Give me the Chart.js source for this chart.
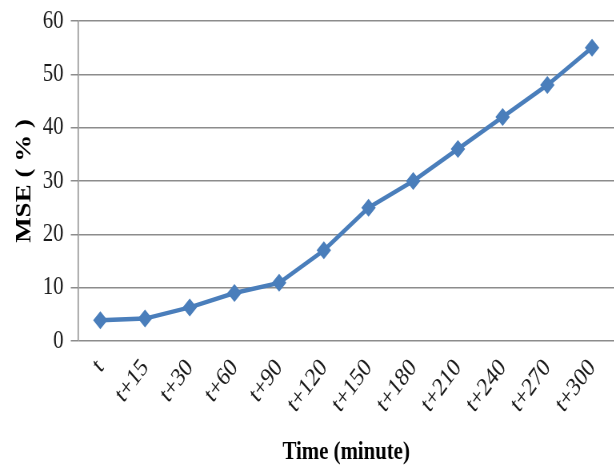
<!DOCTYPE html>
<html>
<head>
<meta charset="utf-8">
<script src="https://cdn.jsdelivr.net/npm/chart.js"></script>
<style>
  html, body { margin: 0; padding: 0; background: #fff; overflow: hidden; }
  /* the source figure is squeezed sideways, so draw wide and squeeze it */
  #wrap { width: 768px; height: 468px; transform: scaleX(0.8); transform-origin: 0 0; }
</style>
</head>
<body>
<div id="wrap"><canvas id="mseChart" width="768" height="468"></canvas></div>
<script>
// data
const timeLabels = ['t', 't+15', 't+30', 't+60', 't+90', 't+120', 't+150', 't+180', 't+210', 't+240', 't+270', 't+300'];
const mseValues = [3.9, 4.2, 6.3, 9, 10.9, 17, 25, 30, 36, 42, 48, 55];
const yTicks = [0, 10, 20, 30, 40, 50, 60];

const serif = '"Liberation Serif", "DejaVu Serif", serif';
const gridGray = '#8c8c8c';

const ctx = document.getElementById('mseChart').getContext('2d');
new Chart(ctx, {
    type: 'line',
    data: {
        labels: timeLabels,
        datasets: [{
            label: 'MSE',
            data: mseValues,
            borderColor: '#4a7ebb',
            backgroundColor: '#4a7ebb',
            borderWidth: 4.5,
            pointStyle: 'rectRot',
            pointRadius: 9,
            pointBorderWidth: 0,
            tension: 0,
            fill: false,
            clip: false
        }]
    },
    options: {
        responsive: false,
        animation: false,
        // no extra room for the markers, plot runs to the right edge
        layout: { autoPadding: false, padding: { top: 21, right: 0, left: 0, bottom: 0 } },
        plugins: { legend: { display: false }, tooltip: { enabled: false } },
        scales: {
            x: {
                offset: true,
                grid: { display: false },
                border: { display: false },
                ticks: {
                    color: '#1a1a1a',
                    font: { family: serif, size: 26 },
                    minRotation: 48,
                    maxRotation: 48,
                    padding: 4
                },
                title: {
                    display: true,
                    text: 'Time (minute)',
                    color: '#000',
                    font: { family: serif, size: 26, weight: 'bold' },
                    padding: { top: 0, bottom: 0 }
                },
                afterFit: s => { s.height = 127; s.paddingLeft = 0; s.paddingRight = 0; }
            },
            y: {
                min: 0,
                max: 60,
                afterBuildTicks: s => { s.ticks = yTicks.map(v => ({ value: v })); },
                grid: { color: gridGray, lineWidth: 1.5, tickLength: 9 },
                border: { color: gridGray, width: 1.5 },
                ticks: {
                    color: '#1a1a1a',
                    font: { family: serif, size: 26 },
                    padding: 9
                },
                title: {
                    display: true,
                    text: 'MSE ( % )',
                    color: '#000',
                    font: { family: serif, size: 27, weight: 'bold' },
                    padding: { top: 15, bottom: 0 }
                },
                afterFit: s => { s.width = 97.5; s.paddingTop = 0; s.paddingBottom = 0; }
            }
        }
    }
});
</script>
</body>
</html>
